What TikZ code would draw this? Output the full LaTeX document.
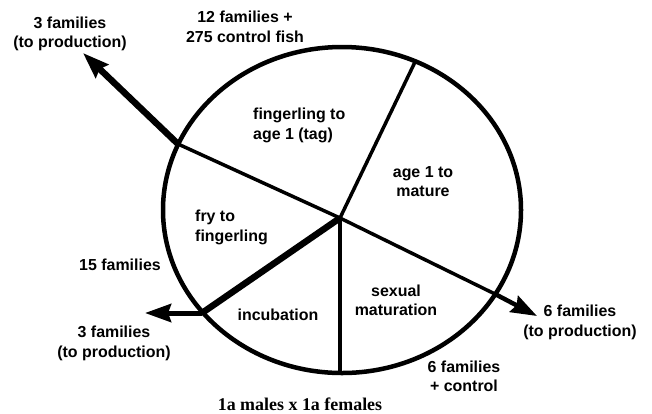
\documentclass[tikz,border=0pt]{standalone}
\usepackage{fontspec}
\setmainfont{Liberation Sans}
\newfontfamily\serifb{Liberation Serif}
\usetikzlibrary{arrows.meta}
\begin{document}
\begin{tikzpicture}[x=1bp,y=-1bp,
  lbl/.style={font=\bfseries\fontsize{16}{19.5}\selectfont, align=center, inner sep=0pt},
  rim/.style={line width=4.5bp},
  spoke/.style={line width=3.5bp},
  thickspoke/.style={line width=6.5bp},
  outarrow/.style={line width=6.5bp, -{Stealth[length=26bp,width=18bp,inset=3bp]}},
]
\useasboundingbox (0,0) rectangle (652,413);
\coordinate (hub) at (340,218);
\coordinate (top) at (415,62);
\coordinate (ul) at (178,144);
\coordinate (lr) at (495,294);
\coordinate (ll) at (202,313);
\coordinate (bot) at (340,372);
\coordinate (tipUL) at (83,53);
\coordinate (tipLL) at (145,313);
\coordinate (tipR) at (537,316);

\draw[rim] (342,210) ellipse [x radius=179bp, y radius=163bp];
\draw[spoke] (hub) -- (top);
\draw[spoke] (ul) -- (hub) -- (lr);
\draw[spoke] (hub) -- (bot);
\draw[thickspoke] (hub) -- (ll);
\draw[outarrow] (ul) -- (tipUL);
\draw[outarrow, line width=5bp] (ll) -- (tipLL);
\draw[outarrow, line width=4.5bp] (lr) -- (tipR);

\node[lbl] (tl) at (70,34) {3 families\\(to production)};
\node[lbl] (tc) at (245,27) {12 families +\\275 control fish};
\node[lbl, align=left, anchor=west] (fing) at (253,125.5) {fingerling to\\age 1 (tag)};
\node[lbl] (age) at (423,181.5) {age 1 to\\mature};
\node[lbl, align=left, anchor=west] (fry) at (195,227.5) {fry to\\fingerling};
\node[lbl] (inc) at (278,315) {incubation};
\node[lbl] (sex) at (396,300.5) {sexual\\maturation};
\node[lbl] (fif) at (120,265) {15 families};
\node[lbl] (ll3) at (114,343.5) {3 families\\(to production)};
\node[lbl] (r6) at (580,322.5) {6 families\\(to production)};
\node[lbl] (b6) at (464,376.5) {6 families\\+ control};
\node[font=\serifb\bfseries\fontsize{18}{20}\selectfont, inner sep=0pt] (cross) at (300,404) {1a males x 1a females};
\end{tikzpicture}
\end{document}
